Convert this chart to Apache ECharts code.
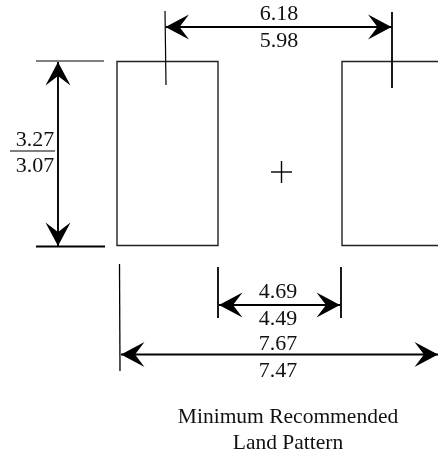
<!DOCTYPE html>
<html><head><meta charset="utf-8">
<style>html,body{margin:0;padding:0;background:#fff}#c{width:438px;height:454px}</style>
<script src="https://cdn.jsdelivr.net/npm/echarts@6/dist/echarts.min.js"></script>
</head><body><div id="c"></div>
<script>
// Drawing units (the sketch is not to scale, so dimensions are placed in sheet units)
const pads = [[117,61.5,218,245.5],[342,61.5,441,245.5]];
const thinLines = [[36,61,104,61],[165,11,166,85],[10,151,55,151]];
const crossLines = [[271,172,292,172],[281.5,161,281.5,183]];
const thickLines = [[36,246.5,105,246.5],[392,12,392,88],[218,267,218,318],[341,267,341,318]];
const mediumLines = [[119.5,264,120,371]];
const arrows = [[165.5,27,391.5,27],[58,62,58,246],[219,305,340,305],[121,354.5,438,354.5]];
const labels = [
  ['6.18',279,14],['5.98',279,41],
  ['3.27',35,140],['3.07',35,166],
  ['4.69',278,292],['4.49',278,319],
  ['7.67',278,344],['7.47',278,371]
];
const captions = [['Minimum Recommended',288,417],['Land Pattern',288,443]];

const SERIF = '"Liberation Serif","Times New Roman",serif';
const line = (api, d, w) => {
  const a = api.coord([d[0],d[1]]), b = api.coord([d[2],d[3]]);
  return {type:'line',shape:{x1:a[0],y1:a[1],x2:b[0],y2:b[1]},style:{stroke:'#000',lineWidth:w}};
};
const head = (tip, from, len, hw, notch) => {
  const dx = from[0]-tip[0], dy = from[1]-tip[1], L = Math.hypot(dx,dy), u=[dx/L,dy/L], n=[-u[1],u[0]];
  return [tip,
    [tip[0]+u[0]*len+n[0]*hw, tip[1]+u[1]*len+n[1]*hw],
    [tip[0]+u[0]*notch, tip[1]+u[1]*notch],
    [tip[0]+u[0]*len-n[0]*hw, tip[1]+u[1]*len-n[1]*hw]];
};
const lineSeries = (rows, w) => ({
  type:'custom', coordinateSystem:'cartesian2d', clip:false, silent:true,
  data:rows, encode:{x:[0,2],y:[1,3]},
  renderItem:(p,api)=>line(api,[api.value(0),api.value(1),api.value(2),api.value(3)],w)
});
const textSeries = (rows, size) => ({
  type:'custom', coordinateSystem:'cartesian2d', clip:false, silent:true,
  data:rows.map(r=>[r[1],r[2],r[0]]), encode:{x:0,y:1},
  renderItem:(p,api)=>{
    const c = api.coord([api.value(0),api.value(1)]);
    return {type:'text',x:c[0],y:c[1],style:{text:rows[p.dataIndex][0],fill:'#111',
      font:size+'px '+SERIF,textAlign:'center',textVerticalAlign:'middle'}};
  }
});
const option = {
  animation:false, backgroundColor:'#fff',
  grid:{left:0,right:0,top:0,bottom:0},
  xAxis:{type:'value',min:0,max:438,show:false},
  yAxis:{type:'value',min:0,max:454,inverse:true,show:false},
  series:[
    { type:'custom', coordinateSystem:'cartesian2d', clip:true, silent:true,
      data:pads, encode:{x:[0,2],y:[1,3]},
      renderItem:(p,api)=>{
        const a=api.coord([api.value(0),api.value(1)]), b=api.coord([api.value(2),api.value(3)]);
        return {type:'rect',shape:{x:a[0],y:a[1],width:b[0]-a[0],height:b[1]-a[1]},
          style:{fill:'none',stroke:'#222',lineWidth:1.4}};
      }},
    lineSeries(thinLines,1.2),
    lineSeries(crossLines,1.4),
    lineSeries(mediumLines,1.3),
    lineSeries(thickLines,1.8),
    { type:'custom', coordinateSystem:'cartesian2d', clip:false, silent:true,
      data:arrows, encode:{x:[0,2],y:[1,3]},
      renderItem:(p,api)=>{
        const a=api.coord([api.value(0),api.value(1)]), b=api.coord([api.value(2),api.value(3)]);
        return {type:'group',children:[
          {type:'line',shape:{x1:a[0],y1:a[1],x2:b[0],y2:b[1]},style:{stroke:'#000',lineWidth:1.9}},
          {type:'polygon',shape:{points:head(a,b,23.5,12.5,14)},style:{fill:'#000'}},
          {type:'polygon',shape:{points:head(b,a,23.5,12.5,14)},style:{fill:'#000'}}
        ]};
      }},
    textSeries(labels,22),
    textSeries(captions,21.5)
  ]
};
echarts.init(document.getElementById('c'),null,{renderer:'canvas'}).setOption(option);
</script></body></html>
